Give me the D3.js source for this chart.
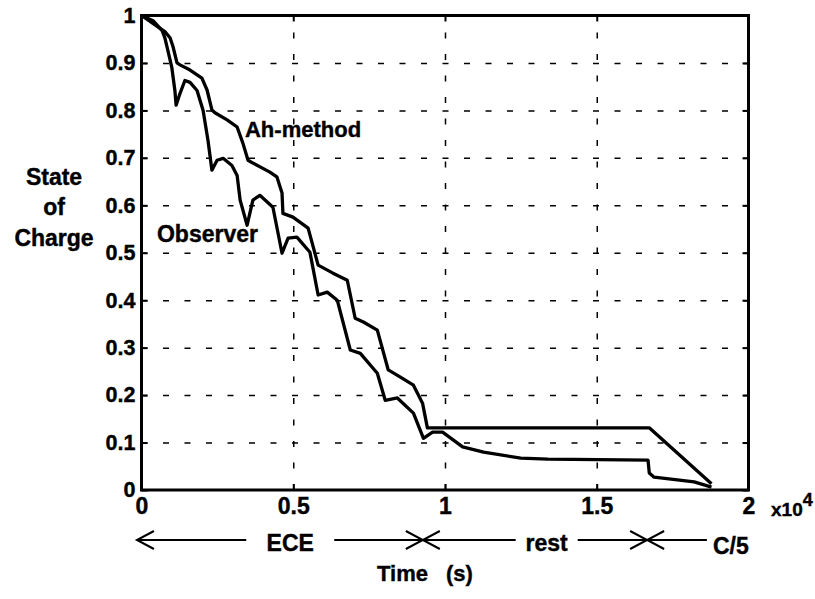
<!DOCTYPE html>
<html>
<head>
<meta charset="utf-8">
<script src="https://cdn.jsdelivr.net/npm/d3@7"></script>
<style>
  body { margin: 0; background: #fff; }
  svg text { font-family: 'Liberation Sans', Arial, Helvetica, sans-serif; font-weight: bold; fill: #000; stroke: #000; stroke-width: 0.4px; }
</style>
</head>
<body>
<svg id="chart" width="815" height="599"></svg>
<script>
// Time is in units of 1e4 s, state of charge is 0..1
const ahTime = [0, 0.054, 0.077, 0.094, 0.104, 0.117, 0.127, 0.160, 0.199, 0.216, 0.232, 0.242, 0.282, 0.315,
    0.334, 0.351, 0.367, 0.423, 0.446, 0.463, 0.466, 0.499, 0.549, 0.582, 0.631, 0.678, 0.704, 0.731, 0.777,
    0.813, 0.853, 0.896, 0.926, 0.942, 1.673, 1.878];
const ahSoc = [1.0, 0.976, 0.966, 0.953, 0.934, 0.900, 0.896, 0.885, 0.868, 0.843, 0.801, 0.795, 0.780, 0.765,
    0.731, 0.695, 0.689, 0.670, 0.660, 0.626, 0.583, 0.575, 0.552, 0.474, 0.457, 0.442, 0.362, 0.354, 0.337,
    0.253, 0.238, 0.221, 0.183, 0.131, 0.131, 0.013];

const obsTime = [0, 0.038, 0.068, 0.077, 0.087, 0.100, 0.110, 0.114, 0.127, 0.143, 0.160, 0.183, 0.203, 0.219,
    0.232, 0.249, 0.269, 0.298, 0.315, 0.325, 0.348, 0.367, 0.390, 0.433, 0.463, 0.483, 0.512, 0.555, 0.582,
    0.612, 0.645, 0.688, 0.721, 0.777, 0.803, 0.843, 0.896, 0.929, 0.959, 0.992, 1.058, 1.127, 1.250, 1.339,
    1.669, 1.673, 1.689, 1.821, 1.878];
const obsSoc = [1.0, 0.989, 0.968, 0.953, 0.926, 0.890, 0.842, 0.811, 0.836, 0.863, 0.859, 0.842, 0.800, 0.737,
    0.674, 0.695, 0.699, 0.684, 0.663, 0.611, 0.558, 0.611, 0.621, 0.596, 0.499, 0.531, 0.533, 0.501, 0.411,
    0.417, 0.400, 0.295, 0.288, 0.246, 0.189, 0.194, 0.162, 0.109, 0.122, 0.122, 0.091, 0.080, 0.067, 0.065,
    0.063, 0.036, 0.027, 0.017, 0.006];

const xTicks = [0, 0.5, 1, 1.5, 2];
const xTickLabels = ['0', '0.5', '1', '1.5', '2'];
const yTicks = [0, 0.1, 0.2, 0.3, 0.4, 0.5, 0.6, 0.7, 0.8, 0.9, 1];
const yTickLabels = ['0', '0.1', '0.2', '0.3', '0.4', '0.5', '0.6', '0.7', '0.8', '0.9', '1'];

// Test phases under the time axis (same time units)
const phaseNames = ['ECE', 'rest', 'C/5'];
const phaseStart = [-0.015, 0.927, 1.666];
const phaseEnd = [0.927, 1.666, 1.863];
const phaseLabelAt = [0.49, 1.335, null];

const svg = d3.select('#chart');
const x = d3.scaleLinear().domain([0, 2]).range([141.5, 748.5]);
const y = d3.scaleLinear().domain([0, 1]).range([490, 15.5]);
const plotW = x(2) - x(0);
const plotH = y(0) - y(1);

// Dashed grid
const styleGrid = g => {
    g.select('.domain').remove();
    g.selectAll('line').attr('stroke', '#000').attr('stroke-width', 1.5).attr('stroke-dasharray', '6,15.5');
};
svg.append('g').attr('transform', `translate(0,${y(0)})`)
    .call(d3.axisBottom(x).tickValues(xTicks.slice(1, -1)).tickSize(-plotH).tickFormat(''))
    .call(styleGrid);
svg.append('g').attr('transform', `translate(${x(0)},0)`)
    .call(d3.axisLeft(y).tickValues(yTicks.slice(1, -1)).tickSize(-plotW).tickFormat(''))
    .call(styleGrid);

// Curves
const line = d3.line().x(d => x(d[0])).y(d => y(d[1]));
[[ahTime, ahSoc], [obsTime, obsSoc]].forEach(([t, s]) => {
    svg.append('path')
        .attr('d', line(d3.zip(t, s)))
        .attr('fill', 'none')
        .attr('stroke', '#000')
        .attr('stroke-width', 3.3)
        .attr('stroke-linejoin', 'round');
});

// Box
svg.append('rect')
    .attr('x', x(0)).attr('y', y(1))
    .attr('width', plotW).attr('height', plotH)
    .attr('fill', 'none').attr('stroke', '#000').attr('stroke-width', 3);

// Axes: inward ticks on all sides, labels left and bottom
const styleAxis = (g, size) => {
    g.select('.domain').remove();
    g.selectAll('line').attr('stroke', '#000').attr('stroke-width', 2);
    g.attr('font-family', null).attr('font-size', size);
};
svg.append('g').attr('transform', `translate(0,${y(0)})`)
    .call(d3.axisBottom(x).tickValues(xTicks).tickFormat((d, i) => xTickLabels[i]).tickSize(-6).tickPadding(7.5))
    .call(g => styleAxis(g, 23));
svg.append('g').attr('transform', `translate(${x(0)},0)`)
    .call(d3.axisLeft(y).tickValues(yTicks).tickFormat((d, i) => yTickLabels[i]).tickSize(-6).tickPadding(6))
    .call(g => styleAxis(g, 21.5));
svg.append('g').attr('transform', `translate(0,${y(1)})`)
    .call(d3.axisTop(x).tickValues(xTicks).tickSize(-6).tickFormat(''))
    .call(g => styleAxis(g, 10));
svg.append('g').attr('transform', `translate(${x(2)},0)`)
    .call(d3.axisRight(y).tickValues(yTicks).tickSize(-6).tickFormat(''))
    .call(g => styleAxis(g, 10));

// x10^4 exponent, one text with a raised tspan
const expo = svg.append('text').attr('x', 771).attr('y', 516).attr('font-size', 19);
expo.append('tspan').text('x10');
expo.append('tspan').attr('dy', -10).attr('font-size', 18).text('4');

// Y axis title
['State', 'of', 'Charge'].forEach((w, i) => {
    svg.append('text')
        .attr('x', 54).attr('y', [185, 215, 246][i])
        .attr('text-anchor', 'middle').attr('font-size', 23)
        .text(w);
});

// Curve labels
svg.append('text').attr('x', x(0.341)).attr('y', y(0.744)).attr('font-size', 22).text('Ah-method');
svg.append('text').attr('x', x(0.051)).attr('y', y(0.523)).attr('font-size', 23).text('Observer');

// Phase arrows
const arrowY = 540;
const arm = {dx: 17, dy: 9};
const phases = svg.append('g').attr('stroke', '#000').attr('stroke-width', 2).attr('fill', 'none');
phaseNames.forEach((name, i) => {
    const x0 = x(phaseStart[i]);
    const x1 = x(phaseEnd[i]);
    // left-pointing head at the start
    phases.append('path').attr('d', `M${x0 + arm.dx},${arrowY - arm.dy}L${x0},${arrowY}L${x0 + arm.dx},${arrowY + arm.dy}`);
    if (phaseLabelAt[i] !== null) {
        const xl = x(phaseLabelAt[i]);
        const half = i === 0 ? 44 : 31;
        phases.append('line').attr('x1', x0).attr('x2', xl - half).attr('y1', arrowY).attr('y2', arrowY);
        phases.append('line').attr('x1', xl + half).attr('x2', x1).attr('y1', arrowY).attr('y2', arrowY);
        // right-pointing head at the end
        phases.append('path').attr('d', `M${x1 - arm.dx},${arrowY - arm.dy}L${x1},${arrowY}L${x1 - arm.dx},${arrowY + arm.dy}`);
        svg.append('text').attr('x', xl).attr('y', arrowY + 11)
            .attr('text-anchor', 'middle').attr('font-size', 23).text(name);
    } else {
        phases.append('line').attr('x1', x0).attr('x2', x1).attr('y1', arrowY).attr('y2', arrowY);
        svg.append('text').attr('x', x1 + 6).attr('y', arrowY + 14).attr('font-size', 23).text(name);
    }
});

// X axis title
svg.append('text').attr('x', 377).attr('y', 581).attr('font-size', 22).text('Time');
svg.append('text').attr('x', 446).attr('y', 581).attr('font-size', 22).text('(s)');
</script>
</body>
</html>
